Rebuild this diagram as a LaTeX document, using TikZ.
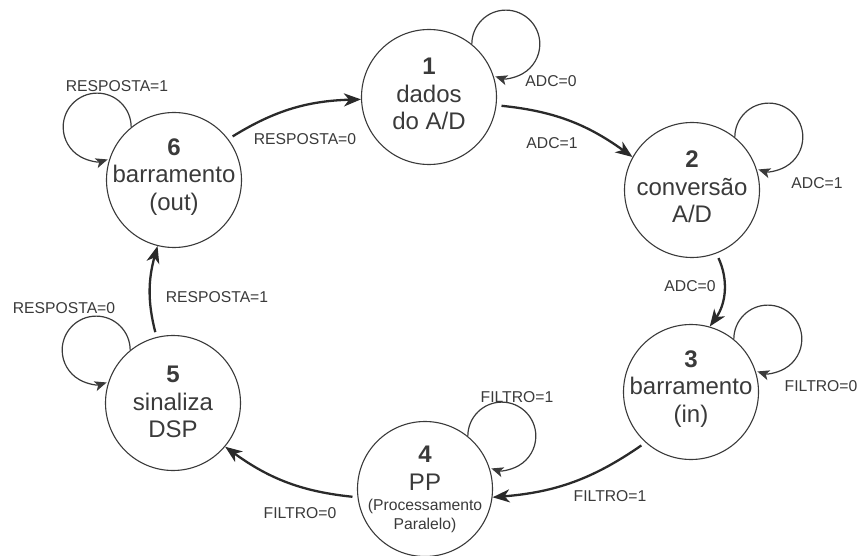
\documentclass[tikz,border=0pt]{standalone}
\usepackage{fontspec}
\setmainfont{Liberation Sans}
\usetikzlibrary{arrows.meta}
\definecolor{ink}{HTML}{3A3A3A}
\definecolor{edgeink}{HTML}{2A2A2A}
\begin{document}
\begin{tikzpicture}[x=1pt,y=1pt,
  state/.style={circle, draw=ink, line width=1.1pt, minimum size=135pt, inner sep=0pt},
  statetext/.style={align=center, text=ink, inner sep=0pt,
    font=\fontsize{24}{27.5}\selectfont},
  smalltext/.style={align=center, text=ink, inner sep=0pt,
    font=\fontsize{15.7}{19}\selectfont},
  trans/.style={draw=edgeink, line width=2.3pt, shorten <=5pt,
    -{Stealth[length=17pt,width=13pt,inset=5pt]}},
  selfloop/.style={draw=ink, line width=1.2pt,
    -{Stealth[length=12pt,width=10pt,inset=3pt]}},
  lbl/.style={text=ink, inner sep=0pt, font=\fontsize{15.7}{18}\selectfont}
]
\useasboundingbox (0,0) rectangle (860,-556);

% states
\node[state] (s1) at (429,-97) {};
\node[state] (s2) at (692,-190) {};
\node[state] (s3) at (691,-392) {};
\node[state] (s4) at (425,-489) {};
\node[state] (s5) at (173,-403) {};
\node[state] (s6) at (174,-180) {};

% state captions
\node[statetext] (t1) at ([yshift=3pt]s1.center) {\textbf{1}\\dados\\do A/D};
\node[statetext] (t2) at ([yshift=3pt]s2.center) {\textbf{2}\\conversão\\A/D};
\node[statetext] (t3) at ([yshift=3pt]s3.center) {\textbf{3}\\barramento\\(in)};
\node[statetext] (t4) at ([yshift=21pt]s4.center) {\textbf{4}\\PP};
\node[smalltext] (t4b) at ([yshift=-27pt]s4.center) {(Processamento\\Paralelo)};
\node[statetext] (t5) at ([yshift=1pt]s5.center) {\textbf{5}\\sinaliza\\DSP};
\node[statetext] (t6) at ([yshift=3pt]s6.center) {\textbf{6}\\barramento\\(out)};

% transitions around the ring
\draw[trans] (s1.-7) to[bend left=15] (s2.151);
\draw[trans] (s2.-69) to[bend left=30] (s3.74);
\draw[trans] (s3.228) to[bend left=15] (s4.-7);
\draw[trans] (s4.187) to[bend left=15] (s5.-40);
\draw[trans] (s5.104) to[bend left=15] (s6.256);
\draw[trans] (s6.37) to[bend left=15] (s1.182);

% self-loops
\draw[selfloop] (s1.51) arc[start angle=180, end angle=-108, radius=34];
\draw[selfloop] (s2.51) arc[start angle=180, end angle=-108, radius=34];
\draw[selfloop] (s3.51) arc[start angle=180, end angle=-108, radius=34];
\draw[selfloop] (s4.51) arc[start angle=180, end angle=-108, radius=34];
\draw[selfloop] (s5.129) arc[start angle=0, end angle=288, radius=34];
\draw[selfloop] (s6.129) arc[start angle=0, end angle=288, radius=34];

% transition labels
\node[lbl] (l12) at (552,-143) {ADC=1};
\node[lbl] (l11) at (551,-81) {ADC=0};
\node[lbl] (l22) at (817,-183) {ADC=1};
\node[lbl] (l23) at (690,-286) {ADC=0};
\node[lbl] (l33) at (821,-386) {FILTRO=0};
\node[lbl] (l34) at (610,-496) {FILTRO=1};
\node[lbl] (l44) at (517,-397) {FILTRO=1};
\node[lbl] (l45) at (300,-513) {FILTRO=0};
\node[lbl] (l55) at (64,-308) {RESPOSTA=0};
\node[lbl] (l56) at (217,-297) {RESPOSTA=1};
\node[lbl] (l66) at (117,-86) {RESPOSTA=1};
\node[lbl] (l61) at (305,-139) {RESPOSTA=0};
\end{tikzpicture}
\end{document}
